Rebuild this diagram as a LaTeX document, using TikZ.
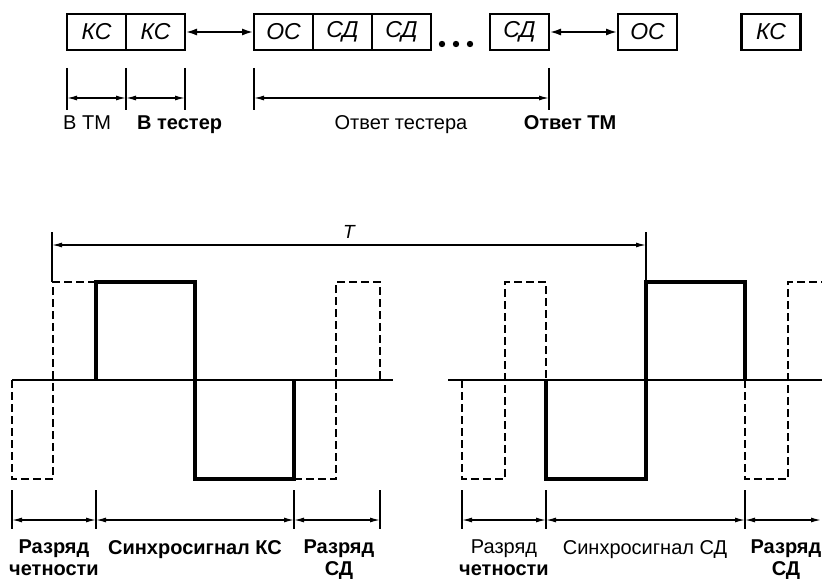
\documentclass[tikz,border=0pt]{standalone}
\usepackage{fontspec}
\setmainfont{Liberation Sans}
\usetikzlibrary{arrows.meta,positioning}
\tikzset{
  box/.style={draw,line width=2.8pt,minimum width=59pt,minimum height=36pt,inner sep=0pt,outer sep=0pt,font=\fontsize{23}{26}\selectfont\itshape},
  link/.style={line width=2.4pt,{Latex[length=12pt,width=7pt]}-{Latex[length=12pt,width=7pt]}},
  tick/.style={line width=1.3pt},
  dim/.style={line width=1.3pt,{Latex[length=10pt,width=5pt]}-{Latex[length=10pt,width=5pt]}},
  lbl/.style={font=\fontsize{20}{21.5}\selectfont,inner sep=0pt,align=center},
  zero/.style={line width=1.4pt},
  pulse/.style={line width=3.6pt,line join=miter},
  parity/.style={line width=2pt,dash pattern=on 8pt off 4pt},
}

\begin{document}
\begin{tikzpicture}[x=1pt,y=-1pt]
		%%%%% START %%%%%
		\clip (0,0) rectangle (822,583);
		
		% frame sequence
		\node[box] (ks1) at (96.5,32) {КС};
		\node[box,right=0pt of ks1] (ks2) {КС};
		\node[box] (os1) at (283.5,32) {ОС};
		\node[box,right=0pt of os1] (sd1) {СД};
		\node[box,right=0pt of sd1] (sd2) {СД};
		\node[box] (sd3) at (519.5,32) {СД};
		\node[box] (os2) at (647.5,32) {ОС};
		\node[box] (ks3) at (771,32) {КС};
		\foreach \x in {442,456,470} \fill (\x,44) circle (3.2pt);
		
		\draw[link] (ks2) -- (os1);
		\draw[link] (sd3) -- (os2);
		
		% top dimensions
		\coordinate (a) at (ks1.west |- 0,98);
		\coordinate (b) at (ks1.east |- 0,98);
		\coordinate (c) at (ks2.east |- 0,98);
		\coordinate (d) at (os1.west |- 0,98);
		\coordinate (e) at (sd3.east |- 0,98);
		\draw[tick] (ks1.west |- 0,68) -- (ks1.west |- 0,110);
		\draw[tick] (ks1.east |- 0,68) -- (ks1.east |- 0,110);
		\draw[tick] (ks2.east |- 0,68) -- (ks2.east |- 0,110);
		\draw[tick] (os1.west |- 0,68) -- (os1.west |- 0,110);
		\draw[tick] (sd3.east |- 0,68) -- (sd3.east |- 0,110);
		\draw[dim] (a) -- (b);
		\draw[dim] (b) -- (c);
		\draw[dim] (d) -- (e);
		
		\node[lbl,anchor=base west] (vtm) at (63,130) {В ТМ};
		\node[lbl,anchor=base west] (vtest) at (137,130) {\bfseries В тестер};
		\node[lbl,anchor=base] (otest) at (401,130) {Ответ тестера};
		\node[lbl,anchor=base] (otm) at (570,130) {\bfseries Ответ ТМ};
		
		% period
		\coordinate (ta) at (52,245);
		\coordinate (tb) at (646,245);
		\draw[tick] (52,232) -- (52,282);
		\draw[tick] (646,232) -- (646,282);
		\draw[dim] (ta) -- (tb);
		\node[font=\fontsize{19}{22}\selectfont\itshape,inner sep=0pt] (tlbl) at (349,232) {T};
		
		% left word
		\draw[zero] (12,380) -- (393,380);
		\draw[parity] (12,380) -- (12,479) -- (53,479) -- (53,282) -- (96,282);
		\draw[pulse] (96,380) -- (96,282) -- (195,282) -- (195,479) -- (294,479) -- (294,380);
		\draw[parity] (294,479) -- (336,479) -- (336,282) -- (380,282) -- (380,380);
		
		% right word
		\draw[zero] (448,380) -- (822,380);
		\draw[parity] (462,380) -- (462,479) -- (505,479) -- (505,282) -- (546,282) -- (546,380);
		\draw[pulse] (546,380) -- (546,479) -- (646,479) -- (646,282) -- (745,282) -- (745,380);
		\draw[parity] (745,380) -- (745,479) -- (788,479) -- (788,282) -- (830,282);
		
		% bottom dimensions
		\foreach \i/\x in {1/12,2/96,3/294,4/380,5/462,6/546,7/745} {
			\coordinate (p\i) at (\x,520);
			\draw[tick] (\x,490) -- (\x,529);
		}
		\coordinate (p8) at (821,520);
		\draw[dim] (p1) -- (p2);
		\draw[dim] (p2) -- (p3);
		\draw[dim] (p3) -- (p4);
		\draw[dim] (p5) -- (p6);
		\draw[dim] (p6) -- (p7);
		\draw[dim] (p7) -- (p8);
		
		\node[lbl,anchor=north,font=\fontsize{20}{21.5}\selectfont\bfseries] (par1) at (54,540) {Разряд\\четности};
		\node[lbl,anchor=north,font=\fontsize{20}{21.5}\selectfont\bfseries] (syn1) at (195,540) {Синхросигнал КС};
		\node[lbl,anchor=north,font=\fontsize{20}{21.5}\selectfont\bfseries] (bit1) at (339,540) {Разряд\\СД};
		\node[lbl,anchor=north] (par2) at (504,540) {Разряд\\\bfseries четности};
		\node[lbl,anchor=north] (syn2) at (645,540) {Синхросигнал СД};
		\node[lbl,anchor=north,font=\fontsize{20}{21.5}\selectfont\bfseries] (bit2) at (786,540) {Разряд\\СД};
		%%%%% END %%%%%
\end{tikzpicture}
\end{document}
